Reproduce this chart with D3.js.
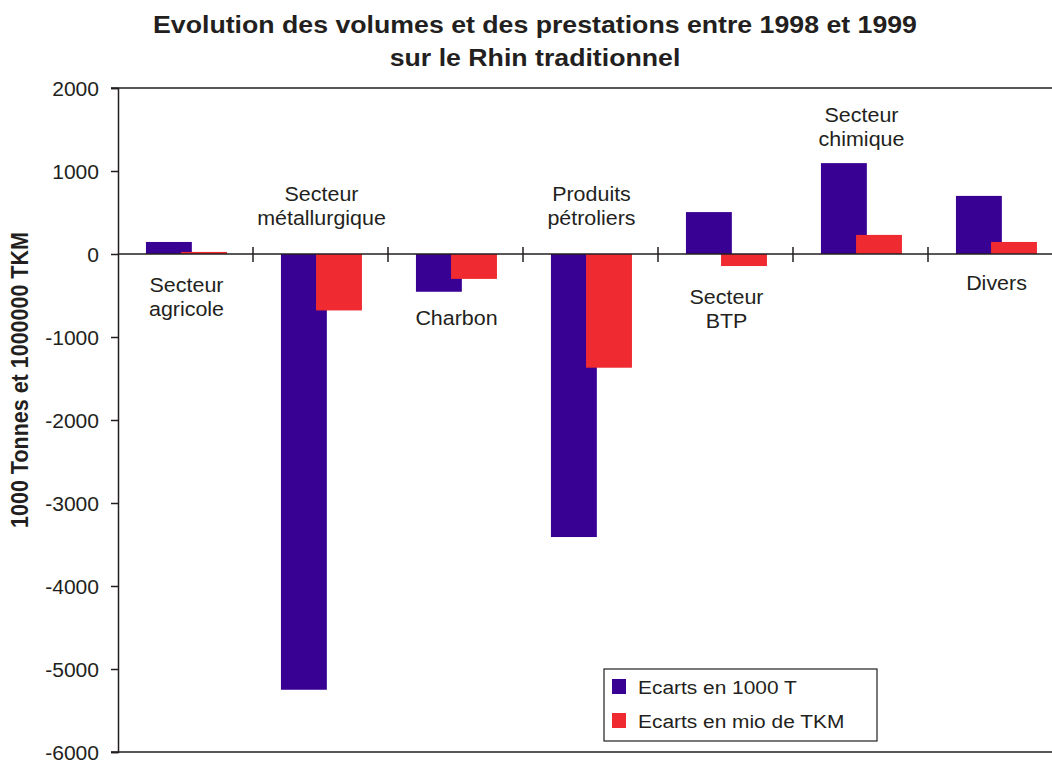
<!DOCTYPE html>
<html>
<head>
<meta charset="utf-8">
<script src="https://cdn.jsdelivr.net/npm/d3@7"></script>
<style>
  body { margin: 0; background: #fff; }
  text { font-family: "Liberation Sans", Arial, sans-serif; fill: #231f20; }
</style>
</head>
<body>
<div id="chart"></div>
<script>
// data
var categories = ['Secteur agricole', 'Secteur métallurgique', 'Charbon', 'Produits pétroliers',
    'Secteur BTP', 'Secteur chimique', 'Divers'];
var labelLines = [['Secteur', 'agricole'], ['Secteur', 'métallurgique'], ['Charbon'],
    ['Produits', 'pétroliers'], ['Secteur', 'BTP'], ['Secteur', 'chimique'], ['Divers']];
var ecartsTonnes = [145, -5250, -455, -3410, 505, 1095, 700];
var ecartsTkm = [25, -680, -300, -1370, -145, 230, 145];
var seriesNames = ['Ecarts en 1000 T', 'Ecarts en mio de TKM'];
var yTicks = [2000, 1000, 0, -1000, -2000, -3000, -4000, -5000, -6000];

// where each category label sits (value units of its first line centre)
var labelAt = [-373, 723, -771, 723, -518, 1675, -349];

var width = 1052, height = 760;
var mLeft = 118, mRight = 1063, mTop = 88, mBottom = 752;
var colors = ['#390094', '#ef2b31'];
var sx = 1.1; // the original text is a bit wider than it is tall

var svg = d3.select('#chart').append('svg')
    .attr('width', width)
    .attr('height', height);

var x = d3.scaleBand().domain(categories).range([mLeft, mRight]).padding(0);
var y = d3.scaleLinear().domain([-6000, 2000]).range([mBottom, mTop]);
var bw = x.bandwidth();
var barW = bw * 0.34;
var offsets = [bw * 0.207, bw * 0.467];

// title
var titleLines = ['Evolution des volumes et des prestations entre 1998 et 1999', 'sur le Rhin traditionnel'];
titleLines.forEach(function(t, i) {
    svg.append('text')
        .attr('transform', 'translate(535,' + (33 + i * 33) + ') scale(1.09,1)')
        .attr('text-anchor', 'middle')
        .style('font-size', '24.5px').style('font-weight', 'bold')
        .text(t);
});

// y axis title
svg.append('text')
    .attr('transform', 'translate(28,380) rotate(-90) scale(1,' + sx + ')')
    .attr('text-anchor', 'middle')
    .style('font-size', '21.5px').style('font-weight', 'bold')
    .text('1000 Tonnes et 1000000 TKM');

// frame lines top / bottom
svg.append('line').attr('x1', mLeft - 7).attr('x2', mRight).attr('y1', y(2000)).attr('y2', y(2000))
    .attr('stroke', '#231f20').attr('stroke-width', 1.5);
svg.append('line').attr('x1', mLeft - 7).attr('x2', mRight).attr('y1', y(-6000)).attr('y2', y(-6000))
    .attr('stroke', '#231f20').attr('stroke-width', 1.5);

// bars
[ecartsTonnes, ecartsTkm].forEach(function(vals, s) {
    svg.append('g').selectAll('rect')
        .data(vals)
        .enter().append('rect')
        .attr('x', function(d, i) { return x(categories[i]) + offsets[s]; })
        .attr('width', barW)
        .attr('y', function(d) { return y(Math.max(0, d)); })
        .attr('height', function(d) { return Math.abs(y(d) - y(0)); })
        .attr('fill', colors[s]);
});

// y axis
var yAxis = d3.axisLeft(y).tickValues(yTicks).tickSize(7).tickPadding(11)
    .tickFormat(function(d) { return String(d); });
var gy = svg.append('g').attr('transform', 'translate(' + mLeft + ',0)').call(yAxis);
gy.select('.domain').attr('stroke', '#231f20').attr('stroke-width', 1.5);
gy.selectAll('.tick line').attr('stroke', '#231f20').attr('stroke-width', 1.5);
gy.selectAll('.tick text')
    .style('font-size', '19.5px')
    .style('font-family', '"Liberation Sans", Arial, sans-serif')
    .attr('fill', '#231f20')
    .attr('x', -19 / 1.08)
    .attr('transform', 'scale(1.08,1)')
    .attr('dy', '0.36em');

// zero line with category separators
svg.append('line').attr('x1', mLeft).attr('x2', mRight).attr('y1', y(0)).attr('y2', y(0))
    .attr('stroke', '#231f20').attr('stroke-width', 1.5);
svg.append('g').selectAll('line')
    .data(categories.slice(1))
    .enter().append('line')
    .attr('x1', function(d) { return x(d); })
    .attr('x2', function(d) { return x(d); })
    .attr('y1', y(0) - 7).attr('y2', y(0) + 8)
    .attr('stroke', '#231f20').attr('stroke-width', 1.5);

// category labels
categories.forEach(function(c, i) {
    var t = svg.append('text')
        .attr('transform', 'translate(' + (x(c) + bw / 2 + 1) + ',0) scale(' + sx + ',1)')
        .attr('text-anchor', 'middle')
        .style('font-size', '19.5px');
    labelLines[i].forEach(function(line, j) {
        t.append('tspan')
            .attr('x', 0)
            .attr('y', y(labelAt[i]) + j * 24 + 7)
            .text(line);
    });
});

// legend
var legend = svg.append('g').attr('transform', 'translate(604,669)');
legend.append('rect').attr('width', 273).attr('height', 72)
    .attr('fill', '#fff').attr('stroke', '#231f20').attr('stroke-width', 1.2);
seriesNames.forEach(function(name, i) {
    legend.append('rect').attr('x', 8).attr('y', 10 + i * 34)
        .attr('width', 14).attr('height', 15).attr('fill', colors[i]);
    legend.append('text')
        .attr('transform', 'translate(34,' + (25 + i * 34) + ') scale(' + sx + ',1)')
        .style('font-size', '19px').text(name);
});
</script>
</body>
</html>
